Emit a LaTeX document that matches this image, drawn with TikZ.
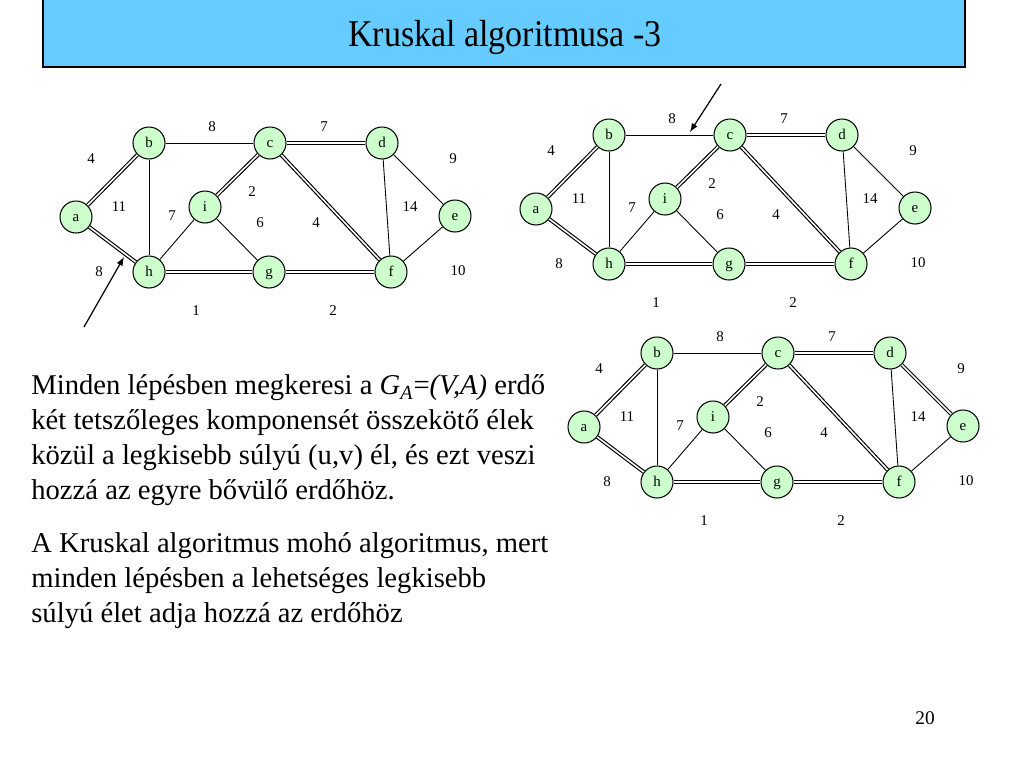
\documentclass[tikz,border=0pt]{standalone}
\usepackage{fontspec}
\setmainfont{Liberation Serif}
\definecolor{cimkek}{HTML}{66CCFF}
\definecolor{zold}{HTML}{CCFFCC}
\newcommand\kis{\fontsize{8.5}{10}\selectfont}
\newcommand\kgraf[3]{%
\begin{scope}[shift={#1}]
\foreach\n/\x/\y in{a/76/217,b/149/143,c/270/143,d/382/143,e/455/216,f/391/272,g/269/272,h/149/272,i/205/207}
\node[csucs] (#2\n) at (\x,\y) {\n};
\foreach\u/\v in{a/b,a/h,b/c,b/h,c/d,c/i,c/f,d/e,d/f,e/f,h/i,h/g,i/g,g/f}
\draw[el] (#2\u)--(#2\v);
\foreach\u/\v in{#3} \draw[fael] (#2\u)--(#2\v);
\foreach\w/\x/\y [count=\k] in{8/212/127,7/324/127,4/91/159,9/453/159,2/252/192,11/119/207,7/172/216,14/410/207,6/260/223,4/316/223,8/99/272,10/458/271,1/196/311,2/333/311}
\node[suly] (#2w\k) at (\x,\y) {\w};
\end{scope}}

\begin{document}
\begin{tikzpicture}[x=0.02cm,y=-0.02cm,
 csucs/.style={circle,draw,line width=0.6pt,fill=zold,minimum size=0.64cm,inner sep=0pt,
   text height=1.45ex,text depth=0.35ex,font=\kis},
 el/.style={line width=0.5pt},
 fael/.style={draw=black,line width=0.65pt,double=white,double distance=0.9pt},
 suly/.style={font=\kis},
 nyil/.style={-latex,line width=0.7pt},
 szoveg/.style={anchor=base west,inner sep=0pt,font=\fontsize{16.3}{20}\selectfont}]
\useasboundingbox (0,0) rectangle (1024,768);
\filldraw[fill=cimkek,line width=0.8pt] (43,-1) rectangle (965,67);
\node[font=\fontsize{21.5}{26}\selectfont] (cim) at (505,37) {\scalebox{0.9}[1]{Kruskal algoritmusa -3}};
\kgraf{(0,0)}{A}{a/b,a/h,c/i,c/d,c/f,h/g,g/f}
\kgraf{(460,-8)}{B}{a/b,a/h,c/i,c/d,c/f,h/g,g/f}
\kgraf{(508,210)}{C}{a/b,a/h,c/i,c/d,c/f,h/g,g/f,d/e}
\coordinate (A0) at (84,327); \coordinate (A1) at (124,257);
\draw[nyil] (A0)--(A1);
\coordinate (B0) at (721,84); \coordinate (B1) at (690,132);
\draw[nyil] (B0)--(B1);
\foreach\sor [count=\k] in{{Minden lépésben megkeresi a \textit{G}\textsubscript{\textit{A}}=\textit{(V,A)} erdő},{két tetszőleges komponensét összekötő élek},{közül a legkisebb súlyú (u,v) él, és ezt veszi},{hozzá az egyre bővülő erdőhöz.}}
\node[szoveg] (p\k) at (31,{394.6+35*(\k-1)}) {\sor};
\foreach\sor [count=\k] in{{A Kruskal algoritmus mohó algoritmus, mert},{minden lépésben a lehetséges legkisebb},{súlyú élet adja hozzá az erdőhöz}}
\node[szoveg] (q\k) at (31,{552+35*(\k-1)}) {\sor};
\node[font=\fontsize{11}{13}\selectfont] (oldal) at (925,718) {20};
\end{tikzpicture}
\end{document}
